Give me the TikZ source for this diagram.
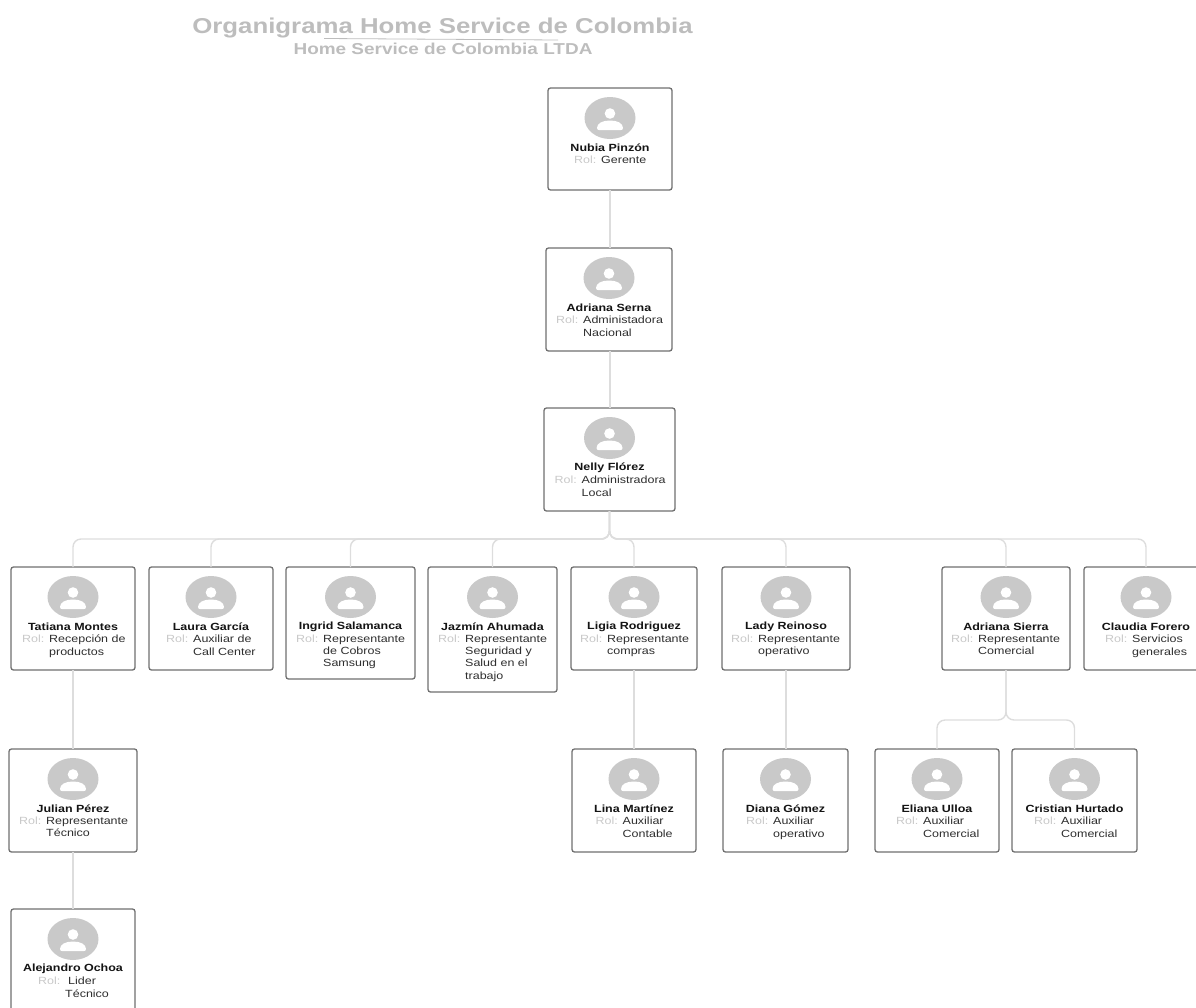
\documentclass[tikz,border=0pt]{standalone}
\usepackage{fontspec}
\setmainfont[FakeStretch=1.2]{Liberation Sans}
\usetikzlibrary{shapes.geometric}
\definecolor{softgray}{HTML}{C9C9C9}
\definecolor{titlegray}{HTML}{BDBDBD}
\definecolor{linkgray}{HTML}{DDDDDD}
\definecolor{boxgray}{HTML}{707070}
\tikzset{
    card/.style={draw=boxgray, line width=1.3pt, rounded corners=2.5pt, fill=white, inner sep=0pt, outer sep=0pt},
    avatar/.style={ellipse, fill=softgray, minimum width=51pt, minimum height=42pt, inner sep=0pt},
    who/.style={font=\fontsize{10.4}{12.3}\selectfont\bfseries, text=black!92, inner sep=0pt},
    job/.style={font=\fontsize{10.4}{12.3}\selectfont, text=black!82, align=left, inner sep=0pt, anchor=north west},
    rol/.style={font=\fontsize{10.4}{12.3}\selectfont, text=softgray, inner sep=0pt, anchor=north east},
    link/.style={draw=linkgray, line width=1.4pt, rounded corners=8pt},
}
\begin{document}
\begin{tikzpicture}[x=1pt, y=-1pt]
    \clip (0,0) rectangle (1196,1007);

    \node[font=\fontsize{21.5}{24}\selectfont\bfseries, text=titlegray, inner sep=0pt] (title) at (442.5,28) {Organigrama Home Service de Colombia};
    \node[font=\fontsize{15.8}{16}\selectfont\bfseries, text=titlegray, inner sep=0pt] (subtitle) at (443,49) {Home Service de Colombia LTDA};
    \draw [titlegray, line width=0.8pt] (324,38.5) -- (558,40);

    \foreach \id/\l/\t/\r/\b/\name/\tx/\work in {
        nubia/548/88/672/190/{Nubia Pinzón}/601/{Gerente},
        serna/546/248/672/351/{Adriana Serna}/583/{Administadora\\Nacional},
        nelly/544/408/675/511/{Nelly Flórez}/581.5/{Administradora\\Local},
        tatiana/11/567/135/670/{Tatiana Montes}/49/{Recepción de\\productos},
        laura/149/567/273/670/{Laura García}/193/{Auxiliar de\\Call Center},
        ingrid/286/567/415/679/{Ingrid Salamanca}/323/{Representante\\de Cobros\\Samsung},
        jazmin/428/567/557/692/{Jazmín Ahumada}/465/{Representante\\Seguridad y\\Salud en el\\trabajo},
        ligia/571/567/697/670/{Ligia Rodriguez}/607/{Representante\\compras},
        lady/722/567/850/670/{Lady Reinoso}/758/{Representante\\operativo},
        sierra/942/567/1070/670/{Adriana Sierra}/978/{Representante\\Comercial},
        claudia/1084/567/1208/670/{Claudia Forero}/1132/{Servicios\\generales},
        julian/9/749/137/852/{Julian Pérez}/46/{Representante\\Técnico},
        alejandro/11/909/135/1012/{Alejandro Ochoa}/65/{\hspace*{3pt}Lider\\Técnico},
        lina/572/749/696/852/{Lina Martínez}/622.5/{Auxiliar\\Contable},
        diana/723/749/848/852/{Diana Gómez}/773/{Auxiliar\\operativo},
        eliana/875/749/999/852/{Eliana Ulloa}/923/{Auxiliar\\Comercial},
        cristian/1012/749/1137/852/{Cristian Hurtado}/1061/{Auxiliar\\Comercial}%
    } {
        \node[card, minimum width={\r-\l}, minimum height={\b-\t}] (\id) at ({(\l+\r)/2},{(\t+\b)/2}) {};
        \node[avatar] (\id-pic) at ([yshift=-30pt]\id.north) {};
        \fill [white] ([yshift=4.5pt]\id-pic.center) circle (5.3pt);
        \begin{scope}[shift={(\id-pic.center)}]
            \fill [white] (-13,10) .. controls (-13,5) and (-7,2.5) .. (0,2.5) .. controls (7,2.5) and (13,5) .. (13,10) .. controls (13,11.5) and (12,12) .. (11,12) -- (-11,12) .. controls (-12,12) and (-13,11.5) .. (-13,10);
        \end{scope}
        \node[who] (\id-name) at ([yshift=-60pt]\id.north) {\name};
        \node[job] (\id-job) at (\tx,\t+68) {\work};
        \node[rol] (\id-rol) at ([xshift=-4.5pt]\id-job.north west) {Rol:};
    }

    \draw [link] (nubia.south) -- (nubia.south |- serna.north);
    \draw [link] (nubia.south |- serna.south) -- (nubia.south |- nelly.north);

    \foreach \i in {tatiana,laura,ingrid,jazmin,ligia,lady,sierra,claudia} {
        \draw [link] (nelly.south) -- ++(0,28) -| (\i.north);
    }
    \foreach \i in {eliana,cristian} {
        \draw [link] (sierra.south) -- ++(0,50) -| (\i.north);
    }
    \draw [link] (tatiana.south) -- (tatiana.south |- julian.north);
    \draw [link] (tatiana.south |- julian.south) -- (tatiana.south |- alejandro.north);
    \draw [link] (ligia.south) -- (ligia.south |- lina.north);
    \draw [link] (lady.south) -- (lady.south |- diana.north);
\end{tikzpicture}
\end{document}
